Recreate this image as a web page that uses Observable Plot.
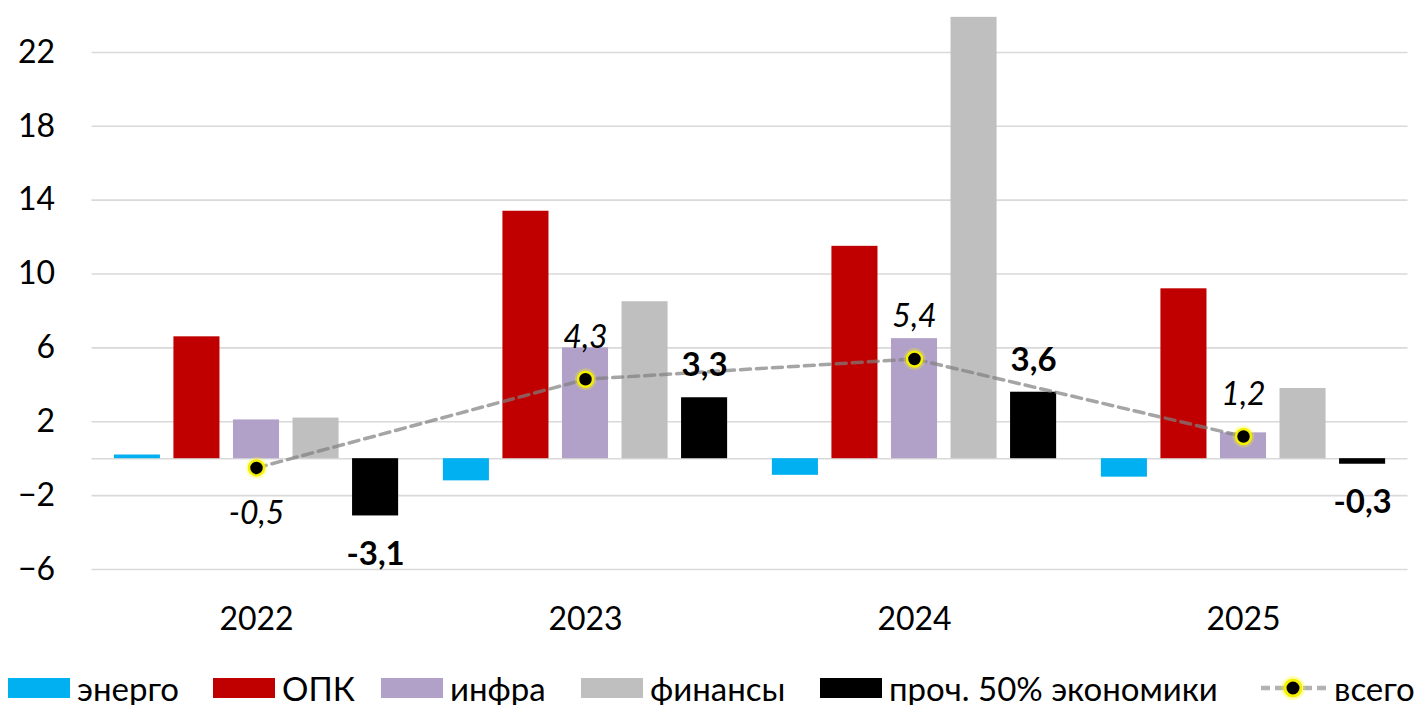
<!DOCTYPE html>
<html>
<head>
<meta charset="utf-8">
<script src="https://cdn.jsdelivr.net/npm/d3@7"></script>
<script src="https://cdn.jsdelivr.net/npm/@observablehq/plot@0.6"></script>
<style>
  html, body { margin: 0; padding: 0; background: #fff; overflow: hidden; }
  #chart { width: 1420px; height: 655px; }
  #legend { position: relative; width: 1420px; height: 50px; font-family: Lato, sans-serif; font-size: 33px; color: #000; }
  .sw { position: absolute; top: 23px; width: 62px; height: 20px; }
  .lt { position: absolute; top: 33px; transform: translateY(-50%); white-space: nowrap; line-height: 1; }
</style>
</head>
<body>
<div id="chart"></div>
<div id="legend"></div>
<script>
const years = ["2022", "2023", "2024", "2025"];
const series = ["энерго", "ОПК", "инфра", "финансы", "проч. 50% экономики"];
const energo  = [0.2, -1.2, -0.9, -1.0];
const opk     = [6.6, 13.4, 11.5, 9.2];
const infra   = [2.1, 6.0, 6.5, 1.4];
const finance = [2.2, 8.5, 23.9, 3.8];
const other   = [-3.1, 3.3, 3.6, -0.3];
const total   = [-0.5, 4.3, 5.4, 1.2];
const totalName = "всего";
const colors = ["#00b0f0", "#c00000", "#b1a0c7", "#bfbfbf", "#000000"];
const yTicks = [-6, -2, 2, 6, 10, 14, 18, 22];

const seriesValues = [energo, opk, infra, finance, other];
const STEP = 0.181, BW = 0.14;
const bars = [];
years.forEach((yr, i) => seriesValues.forEach((vals, s) => {
  const c = i + 0.5 + (s - 2) * STEP;
  bars.push({year: yr, series: series[s], s, v: vals[i], x1: c - BW / 2, x2: c + BW / 2, xc: c});
}));
const totals = years.map((yr, i) => ({year: yr, x: i + 0.5, v: total[i]}));
const otherLabels = bars.filter(d => d.s === 4);
const fmt = v => v.toFixed(1).replace(".", ",");

const chart = Plot.plot({
  width: 1420, height: 655,
  marginLeft: 91.5, marginRight: 12.5, marginTop: 15, marginBottom: 86,
  x: {type: "linear", domain: [0, 4], axis: null},
  y: {domain: [-6, 24], axis: null},
  style: {fontFamily: "Lato, sans-serif", fontSize: "32px", color: "#000", background: "#fff", overflow: "visible"},
  marks: [
    Plot.ruleY(yTicks, {stroke: "#d9d9d9", strokeWidth: 1.6}),
    Plot.ruleY([0], {stroke: "#d9d9d9", strokeWidth: 1.6}),
    Plot.axisY({ticks: yTicks, tickSize: 0, tickPadding: 37, fill: "#000", fontSize: 32, label: null}),
    Plot.axisX({ticks: totals.map(d => d.x), tickFormat: d => years[Math.floor(d)], tickSize: 0, tickPadding: 38, fill: "#000", fontSize: 32, label: null}),
    Plot.rectY(bars, {x1: "x1", x2: "x2", y1: 0, y2: "v", fill: d => colors[d.s]}),
    Plot.line(totals, {x: "x", y: "v", stroke: "#7f7f7f", strokeOpacity: 0.7, strokeWidth: 3.5, strokeDasharray: "10,6"}),
    Plot.dot(totals, {x: "x", y: "v", r: 11, fill: "#ffff00", fillOpacity: 0.25}),
    Plot.dot(totals, {x: "x", y: "v", r: 7.5, fill: "#000", stroke: "#f5f000", strokeWidth: 2.5}),
    Plot.text(totals, {x: "x", y: "v", text: d => fmt(d.v), fontStyle: "italic", fontSize: 32, fill: "#000", lineAnchor: "middle"}),
    Plot.text(otherLabels, {x: "xc", y: "v", text: d => fmt(d.v), fontWeight: "bold", fontSize: 33, fill: "#000", lineAnchor: "middle"})
  ]
});
document.getElementById("chart").appendChild(chart);

// label offsets: above for positive values, below for negative
const textGroups = chart.querySelectorAll("g[aria-label='text']");
textGroups[0].querySelectorAll("text").forEach((t, i) => {
  t.setAttribute("transform", (t.getAttribute("transform") || "") + ` translate(0,${total[i] < 0 ? 46 : -42})`);
});
textGroups[1].querySelectorAll("text").forEach((t, i) => {
  t.setAttribute("transform", (t.getAttribute("transform") || "") + ` translate(0,${other[i] < 0 ? 38 : -32})`);
});

// legend
const legend = document.getElementById("legend");
const swLeft = [8, 213, 381, 581, 820];
series.forEach((name, s) => {
  const sw = document.createElement("span");
  sw.className = "sw";
  sw.style.left = swLeft[s] + "px";
  sw.style.background = colors[s];
  legend.appendChild(sw);
  const t = document.createElement("span");
  t.className = "lt";
  t.style.left = (swLeft[s] + 69) + "px";
  t.textContent = name;
  legend.appendChild(t);
});
const sym = document.createElementNS("http://www.w3.org/2000/svg", "svg");
sym.setAttribute("width", "70"); sym.setAttribute("height", "30");
sym.style.position = "absolute"; sym.style.left = "1259px"; sym.style.top = "18px";
sym.innerHTML = `<line x1="2" y1="15" x2="68" y2="15" stroke="#7f7f7f" stroke-opacity="0.6" stroke-width="4.5" stroke-dasharray="9,5"/><circle cx="34" cy="15" r="12" fill="#ffff00" fill-opacity="0.3"/><circle cx="34" cy="15" r="8" fill="#000" stroke="#f5f000" stroke-width="3"/>`;
legend.appendChild(sym);
const tt = document.createElement("span");
tt.className = "lt";
tt.style.left = "1334px";
tt.textContent = totalName;
legend.appendChild(tt);
</script>
</body>
</html>
